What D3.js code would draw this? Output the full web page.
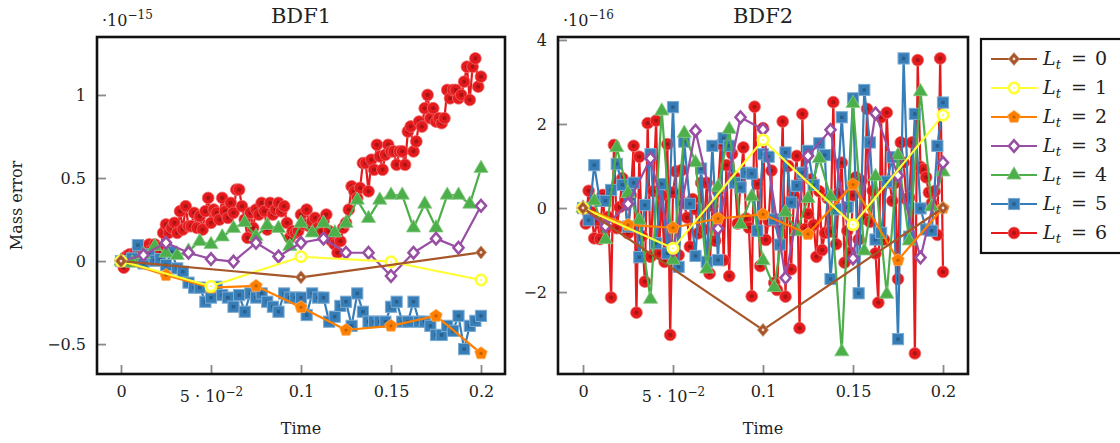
<!DOCTYPE html>
<html>
<head>
<meta charset="utf-8">
<script src="https://cdn.jsdelivr.net/npm/d3@7"></script>
<style>
  body { margin: 0; background: #fff; }
  text { font-family: "DejaVu Serif", serif; fill: #222; }
</style>
</head>
<body>
<div id="container"></div>
<script>
// number of time steps on [0, 0.2] for each level L_t
const levels = [0, 1, 2, 3, 4, 5, 6];
const steps = [2, 4, 8, 16, 32, 64, 128];
const tEnd = 0.2;

// BDF1 mass error, units of 1e-15
const bdf1L0 = [0, -0.098, 0.052];
const bdf1L1 = [0, -0.152, 0.026, -0.004, -0.114];
const bdf1L2 = [0, -0.085, -0.16, -0.15, -0.278, -0.415, -0.39, -0.33, -0.556];
const bdf1L3 = [0, 0.036, 0.11, 0.05, 0.012, -0.003, 0.11, 0.028, 0.11, 0.135, 0.05, 0.05, -0.09, 0.05, 0.135, 0.08, 0.333];
const bdf1L4 = [0, -0.012, 0.04, 0.088, 0.048, 0.034, 0.06, 0.118, 0.1, 0.146,
  0.197, 0.232, 0.148, 0.215, 0.197, 0.088, 0.228, 0.17, 0.228, 0.17,
  0.228, 0.367, 0.257, 0.367, 0.397, 0.397, 0.2, 0.343, 0.2, 0.397,
  0.397, 0.343, 0.558];
const bdf1L5 = [0, 0.0, 0.016, 0.096, -0.014, 0.04, 0.002, 0.012, -0.024, 0.056,
  -0.044, -0.064, -0.13, -0.16, -0.16, -0.245, -0.22, -0.155, -0.205, -0.22,
  -0.275, -0.205, -0.305, -0.195, -0.22, -0.195, -0.245, -0.275, -0.305, -0.195,
  -0.22, -0.22, -0.22, -0.325, -0.195, -0.22, -0.22, -0.365, -0.335, -0.27,
  -0.245, -0.39, -0.195, -0.305, -0.365, -0.365, -0.365, -0.365, -0.275, -0.245,
  -0.365, -0.365, -0.245, -0.365, -0.365, -0.39, -0.445, -0.445, -0.39, -0.42,
  -0.33, -0.53, -0.39, -0.36, -0.33];
const bdf1L6 = [0, -0.04, 0.03, 0.04, 0.03, 0.05, 0.04, 0.06, 0.05, 0.08,
  0.10, 0.07, 0.10, 0.08, 0.06, 0.17, 0.22, 0.17, 0.20, 0.23,
  0.17, 0.30, 0.19, 0.33, 0.21, 0.21, 0.29, 0.20, 0.27, 0.19,
  0.30, 0.38, 0.23, 0.31, 0.29, 0.25, 0.38, 0.30, 0.26, 0.35,
  0.29, 0.43, 0.43, 0.33, 0.25, 0.14, 0.29, 0.20, 0.31, 0.28,
  0.35, 0.30, 0.19, 0.35, 0.28, 0.31, 0.35, 0.30, 0.33, 0.23,
  0.14, 0.18, 0.17, 0.18, 0.28, 0.22, 0.31, 0.21, 0.24, 0.26,
  0.20, 0.18, 0.24, 0.28, 0.18, 0.12, 0.10, 0.05, 0.12, 0.20,
  0.23, 0.31, 0.45, 0.42, 0.38, 0.44, 0.59, 0.59, 0.42, 0.61,
  0.55, 0.70, 0.63, 0.55, 0.64, 0.70, 0.66, 0.66, 0.58, 0.66,
  0.66, 0.58, 0.78, 0.81, 0.66, 0.72, 0.84, 0.81, 0.92, 1.00,
  0.86, 0.92, 0.84, 0.86, 0.83, 0.86, 1.03, 0.98, 1.03, 1.03,
  0.98, 1.00, 1.08, 1.17, 0.97, 1.17, 1.22, 1.05, 1.11];

// BDF2 mass error, units of 1e-16
const bdf2L0 = [0, -2.9, 0.0];
const bdf2L1 = [0, -0.96, 1.62, -0.40, 2.21];
const bdf2L2 = [0, -0.40, -0.47, -0.25, -0.15, -0.62, 0.56, -1.24, 0.0];
const bdf2L3 = [0, -0.43, 0.10, 1.18, -1.0, 1.84, -0.49, 2.16, 1.87, -1.66, 1.24, 1.86, -1.20, 2.25, 0.77, -1.18, 1.08];
const bdf2L4 = [0, 0.17, -0.75, 1.44, 0.35, -0.29, -2.17, 2.31, -1.24, 1.78,
  1.08, -1.45, 0.5, 1.87, -0.39, 0.27, -1.25, -1.89, -0.10, -0.56,
  0.23, 1.18, 0.27, -3.42, 2.49, -1.02, 0.75, -2.05, 1.25, -0.78,
  2.77, 0.03, 0.86];
const bdf2L5 = [0, -0.29, 1.02, 0.17, 0.17, 0.43, 1.05, 0.55, -0.44, 0.60,
  -1.17, 0.07, 1.28, -0.84, 0.57, -1.08, 2.40, -1.40, 1.58, 0.10,
  -1.14, 0.94, -1.28, 1.48, -1.24, 1.66, 1.48, 0.60, 0.49, 0.84,
  0.82, -0.54, 1.28, 1.22, -0.27, -0.87, 1.32, 0.13, 0.53, 0.84,
  1.36, 0.55, 1.54, 1.26, -1.69, -0.03, 2.16, 0.02, 2.61, -2.03,
  2.81, 1.56, -0.75, -0.59, 0.63, 1.21, -3.12, 3.56, -0.68, 2.24,
  -0.01, -0.51, -0.54, 1.48, 2.51];
const bdf2L6 = [0, -0.37, 0.41, -0.10, -0.72, -0.29, -0.74, 0.31, -0.50, -0.21,
  -2.13, 1.50, -0.48, 0.02, 0.71, 0.15, -0.60, 0.30, 1.48, -2.49,
  1.22, -0.67, -1.75, 2.02, -1.16, 0.40, 2.08, -1.08, 0.30, -1.28,
  1.52, -3.02, 0.37, 0.87, -1.12, 0.90, 0.11, -0.23, -0.92, 0.21,
  -0.03, -0.60, 0.60, -0.51, 0.60, -1.56, 0.05, -0.78, 0.40, 1.52,
  -1.24, 1.02, -1.62, 1.29, 0.73, -0.37, 0.57, 1.44, -0.25, -0.47,
  -2.10, 2.41, 0.57, -1.38, 1.90, -0.76, -0.30, 0.89, -1.78, -1.95,
  -0.40, 2.06, -2.11, 1.00, -1.46, 0.30, 1.24, -2.86, 2.24, -0.50,
  -0.14, 0.68, -0.40, -1.16, 0.40, -1.00, -0.59, 0.23, -0.56, 2.52,
  -0.86, 0.35, 1.08, -1.30, -0.54, -1.06, 0.30, 0.73, -0.75, 0.65,
  -0.25, 2.36, -0.33, 0.41, -1.08, -2.25, 2.16, -0.75, 2.27, 0.60,
  0.17, 0.60, -1.69, 1.56, 1.08, 0.21, 0.25, 1.56, -3.46, 3.52,
  0.98, 0.92, 0.73, 0.37, 0.11, 0.40, -0.64, 3.56, -1.52];

const xTicks = [0, 0.05, 0.1, 0.15, 0.2];
const yTicks1 = [-0.5, 0, 0.5, 1];
const yTicks2 = [-2, 0, 2, 4];

const colors = ['#a65628', '#ffff33', '#ff7f00', '#984ea3', '#4daf4a', '#377eb8', '#e41a1c'];
const marks = ['diamond', 'ring', 'pentagon', 'openDiamond', 'triangle', 'square', 'circle'];

const svg = d3.select('#container').append('svg')
  .attr('width', 1120)
  .attr('height', 443);

const minus = v => (v < 0 ? '\u2212' + Math.abs(v) : String(v));

function diamondPath(w, h) {
  return `M0,${-h / 2}L${w / 2},0L0,${h / 2}L${-w / 2},0Z`;
}
function pentagonPath(r) {
  const pts = d3.range(5).map(i => {
    const a = -Math.PI / 2 + i * 2 * Math.PI / 5;
    return [r * Math.cos(a), r * Math.sin(a)].map(v => v.toFixed(2)).join(',');
  });
  return 'M' + pts.join('L') + 'Z';
}

// draw one marker glyph into each g of the selection
function drawMark(sel, type, color) {
  const dark = d3.color(color).darker(0.8).formatHex();
  const halo = d3.interpolateRgb(color, '#fff')(0.35);
  if (type === 'diamond') {
    sel.append('path').attr('d', diamondPath(11, 13)).attr('fill', color).attr('stroke', halo).attr('stroke-width', 0.8);
    sel.append('circle').attr('r', 1.4).attr('fill', '#fff').attr('opacity', 0.8);
  } else if (type === 'ring') {
    sel.append('circle').attr('r', 5.2).attr('fill', '#fff').attr('stroke', color).attr('stroke-width', 2.6);
    sel.append('circle').attr('r', 1).attr('fill', color);
  } else if (type === 'pentagon') {
    sel.append('path').attr('d', pentagonPath(6.6)).attr('fill', color).attr('stroke', halo).attr('stroke-width', 0.8);
    sel.append('circle').attr('r', 1.6).attr('fill', dark);
  } else if (type === 'openDiamond') {
    sel.append('path').attr('d', diamondPath(10, 11.5)).attr('fill', '#fff').attr('stroke', color).attr('stroke-width', 2.6);
  } else if (type === 'triangle') {
    sel.append('path').attr('d', d3.symbol(d3.symbolTriangle, 88)()).attr('fill', color).attr('stroke', halo).attr('stroke-width', 0.8);
  } else if (type === 'square') {
    sel.append('rect').attr('x', -5.6).attr('y', -5.6).attr('width', 11.2).attr('height', 11.2)
      .attr('fill', color).attr('stroke', halo).attr('stroke-width', 1);
    sel.append('rect').attr('x', -1.7).attr('y', -1.7).attr('width', 3.4).attr('height', 3.4).attr('fill', dark);
  } else {
    sel.append('circle').attr('r', 5.9).attr('fill', color).attr('stroke', halo).attr('stroke-width', 0.8);
    sel.append('circle').attr('r', 2.1).attr('fill', dark);
  }
}

function panel(o) {
  const g = svg.append('g');
  const x = d3.scaleLinear().domain(o.xDomain).range([o.left, o.right]);
  const y = d3.scaleLinear().domain(o.yDomain).range([o.bottom, o.top]);

  // series, drawn from L_t = 6 up to L_t = 0
  const series = o.values.map((vals, i) => ({
    level: levels[i],
    points: vals.map((v, j) => ({ t: j * tEnd / steps[i], v }))
  }));
  const line = d3.line().x(d => x(d.t)).y(d => y(d.v));

  series.slice().reverse().forEach(s => {
    const sg = g.append('g');
    sg.append('path')
      .datum(s.points)
      .attr('d', line)
      .attr('fill', 'none')
      .attr('stroke', colors[s.level])
      .attr('stroke-width', 2.2)
      .attr('stroke-linejoin', 'round');
    const m = sg.selectAll('g.mark')
      .data(s.points)
      .enter().append('g')
      .attr('class', 'mark')
      .attr('transform', d => `translate(${x(d.t)},${y(d.v)})`);
    drawMark(m, marks[s.level], colors[s.level]);
  });

  // axes with inward grey ticks
  const xa = g.append('g')
    .attr('transform', `translate(0,${o.bottom})`)
    .call(d3.axisBottom(x).tickValues(xTicks).tickSizeInner(-9).tickSizeOuter(0).tickPadding(12)
      .tickFormat(d => (d === 0.05 ? '' : String(d))));
  const ya = g.append('g')
    .attr('transform', `translate(${o.left},0)`)
    .call(d3.axisLeft(y).tickValues(o.yTicks).tickSizeInner(-9).tickSizeOuter(0).tickPadding(11)
      .tickFormat(minus));
  [xa, ya].forEach(a => {
    a.select('.domain').remove();
    a.attr('font-family', null).attr('font-size', 16);
    a.selectAll('.tick line').attr('stroke', '#8a8a8a').attr('stroke-width', 1.8);
    a.selectAll('.tick text').attr('fill', '#222');
  });

  // 5 · 10^-2 label
  const t5 = xa.selectAll('.tick').filter(d => d === 0.05).select('text').attr('dy', '1.0em');
  t5.append('tspan').text('5 \u00b7 10');
  t5.append('tspan').attr('dy', '-0.5em').attr('font-size', 12).text('\u22122');

  // frame
  g.append('rect')
    .attr('x', o.left).attr('y', o.top)
    .attr('width', o.right - o.left).attr('height', o.bottom - o.top)
    .attr('fill', 'none').attr('stroke', '#111').attr('stroke-width', 2.6);

  // title and exponent
  g.append('text')
    .attr('x', (o.left + o.right) / 2).attr('y', 23)
    .attr('text-anchor', 'middle').attr('font-size', 21)
    .text(o.title);
  const ex = g.append('text').attr('x', o.left + 5).attr('y', 26).attr('font-size', 16);
  ex.append('tspan').text('\u00b710');
  ex.append('tspan').attr('dy', '-0.55em').attr('font-size', 12).text(o.exponent);

  g.append('text')
    .attr('x', x(0.1)).attr('y', 434)
    .attr('text-anchor', 'middle').attr('font-size', 16)
    .text('Time');

  if (o.ylabel) {
    g.append('text')
      .attr('transform', `translate(22,${(o.top + o.bottom) / 2}) rotate(-90)`)
      .attr('text-anchor', 'middle').attr('font-size', 16)
      .text(o.ylabel);
  }
}

panel({
  left: 97, right: 505, top: 37, bottom: 374,
  xDomain: [-0.01333, 0.21333], yDomain: [-0.68, 1.349],
  values: [bdf1L0, bdf1L1, bdf1L2, bdf1L3, bdf1L4, bdf1L5, bdf1L6],
  yTicks: yTicks1, title: 'BDF1', exponent: '\u221215', ylabel: 'Mass error'
});

panel({
  left: 558, right: 968, top: 37, bottom: 374,
  xDomain: [-0.01389, 0.21389], yDomain: [-3.95, 4.07],
  values: [bdf2L0, bdf2L1, bdf2L2, bdf2L3, bdf2L4, bdf2L5, bdf2L6],
  yTicks: yTicks2, title: 'BDF2', exponent: '\u221216'
});

// legend
const lg = svg.append('g');
lg.append('rect')
  .attr('x', 981).attr('y', 39).attr('width', 160).attr('height', 214)
  .attr('fill', '#fff').attr('stroke', '#111').attr('stroke-width', 2.2);

const entry = lg.selectAll('g.entry')
  .data(levels)
  .enter().append('g')
  .attr('class', 'entry')
  .attr('transform', (d, i) => `translate(0,${59 + i * 29})`);

entry.append('line')
  .attr('x1', 991).attr('x2', 1037)
  .attr('stroke', d => colors[d]).attr('stroke-width', 2);
entry.each(function (d) {
  const m = d3.select(this).append('g').attr('transform', 'translate(1014,0)');
  drawMark(m, marks[d], colors[d]);
});
const lt = entry.append('text').attr('y', 6).attr('font-size', 19);
lt.append('tspan').attr('x', 1043).attr('font-style', 'italic').text('L');
lt.append('tspan').attr('dy', 4).attr('font-size', 13).attr('font-style', 'italic').text('t');
lt.append('tspan').attr('x', 1071).attr('dy', -4).text('=');
lt.append('tspan').attr('x', 1095).text(d => d);
</script>
</body>
</html>
